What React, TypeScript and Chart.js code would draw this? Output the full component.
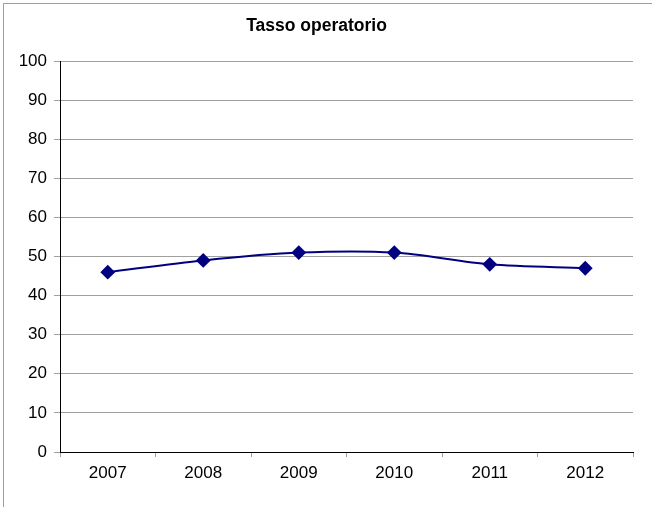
import React, { useEffect, useRef } from "react";
import { Chart, registerables } from "chart.js";

Chart.register(...registerables);

const categories = ["2007", "2008", "2009", "2010", "2011", "2012"];
const values = [46, 49, 51, 51, 48, 47];
const title = "Tasso operatorio";

export default function App() {
  const ref = useRef<HTMLCanvasElement | null>(null);

  useEffect(() => {
    document.body.style.margin = "0";
    const canvas = ref.current;
    if (!canvas) return;
    const chart = new Chart(canvas, {
      type: "line",
      data: {
        labels: categories,
        datasets: [
          {
            label: title,
            data: values,
            borderColor: "#000080",
            backgroundColor: "#000080",
            borderWidth: 2,
            tension: 0.3,
            pointStyle: "rectRot",
            pointRadius: 6,
            pointHoverRadius: 6,
            pointBackgroundColor: "#000080",
            pointBorderColor: "#000080",
            fill: false,
          },
        ],
      },
      options: {
        responsive: false,
        animation: false,
        maintainAspectRatio: false,
        layout: { padding: { left: 0, right: 19, top: 0, bottom: 0 } },
        plugins: {
          legend: { display: false },
          tooltip: { enabled: false },
          title: {
            display: true,
            text: title,
            color: "#000000",
            font: { family: "'Liberation Sans', Arial, sans-serif", size: 17.5, weight: "bold" },
            padding: { top: 16, bottom: 24 },
          },
        },
        scales: {
          x: {
            offset: true,
            grid: {
              offset: true,
              drawOnChartArea: false,
              drawTicks: true,
              tickLength: 5,
              color: "#a0a0a0",
            },
            border: { display: true, color: "#000000", width: 1 },
            ticks: {
              color: "#000000",
              padding: 6,
              font: { family: "'Liberation Sans', Arial, sans-serif", size: 17 },
              maxRotation: 0,
            },
            afterFit: (axis: any) => {
              axis.height = 55;
            },
          },
          y: {
            min: 0,
            max: 100,
            ticks: {
              stepSize: 10,
              color: "#000000",
              padding: 7,
              font: { family: "'Liberation Sans', Arial, sans-serif", size: 17 },
            },
            grid: {
              color: "#a0a0a0",
              tickLength: 6,
              drawTicks: true,
            },
            border: { display: true, color: "#000000", width: 1 },
            afterFit: (axis: any) => {
              axis.width = 60;
            },
          },
        },
      },
    });
    return () => chart.destroy();
  }, []);

  return (
    <div style={{ position: "fixed", left: 0, top: 0, width: 652, height: 507, background: "#ffffff" }}>
      <div
        style={{
          position: "absolute",
          left: 3,
          top: 3,
          width: 649,
          height: 504,
          borderLeft: "1px solid #a0a0a0",
          borderTop: "1px solid #a0a0a0",
        }}
      />
      <canvas ref={ref} width={652} height={507} style={{ position: "absolute", left: 0, top: 0 }} />
    </div>
  );
}
